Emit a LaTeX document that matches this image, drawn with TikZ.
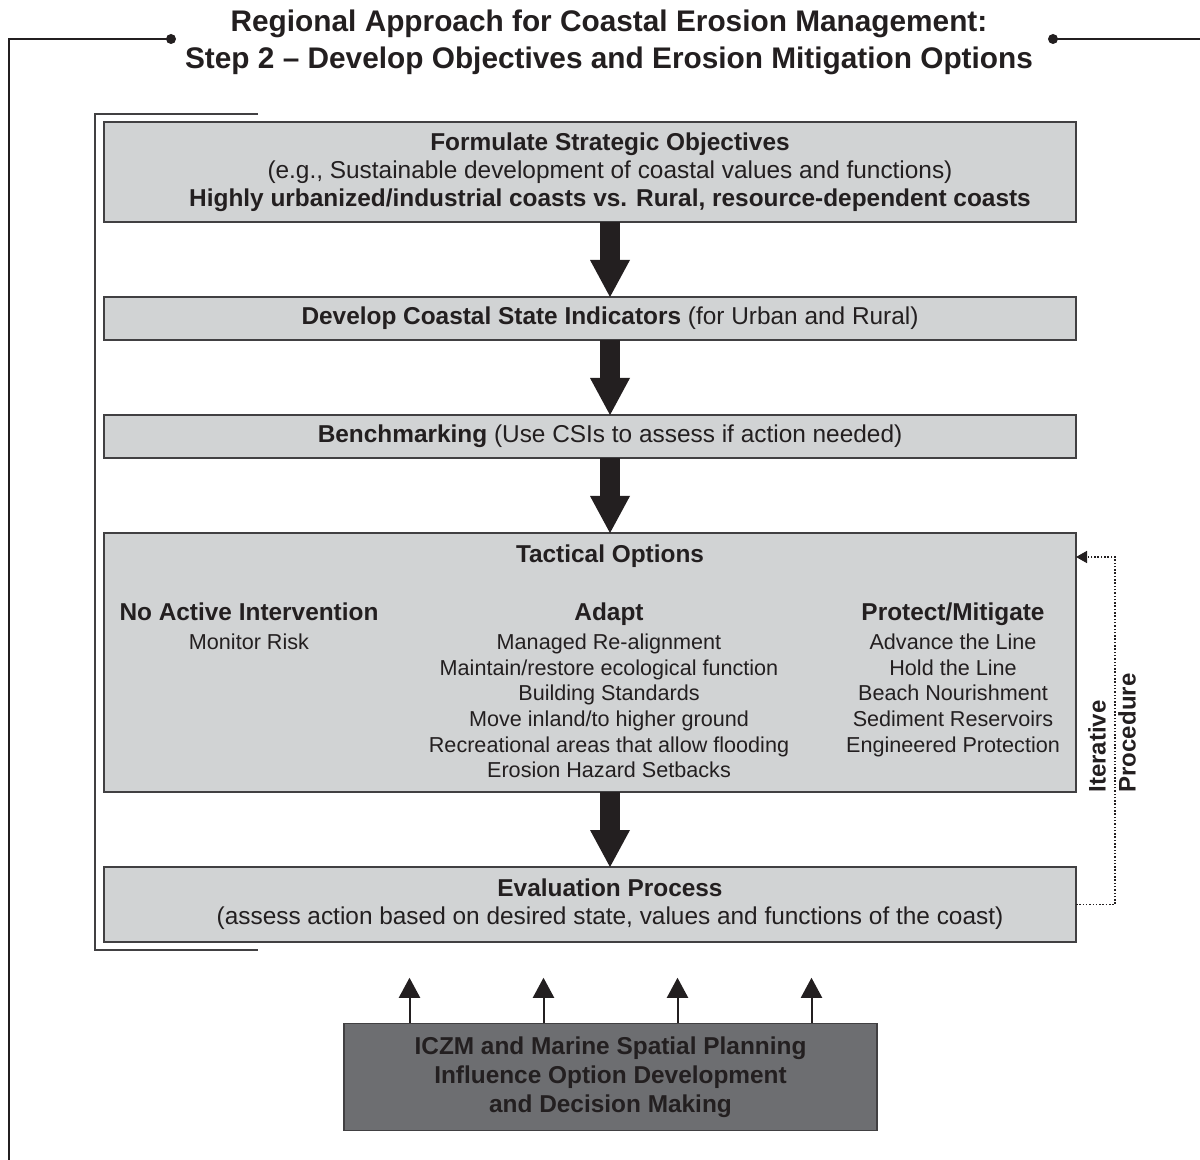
\documentclass[tikz,border=0pt]{standalone}
\usepackage{fontspec}
\setmainfont{Liberation Sans}
\usepackage{xcolor}
\usetikzlibrary{arrows.meta,positioning}
\definecolor{boxgray}{HTML}{D1D3D4}
\definecolor{darkbox}{HTML}{6D6E71}
\definecolor{inkblack}{HTML}{231F20}
\definecolor{edgegray}{HTML}{414042}

\begin{document}
\begin{tikzpicture}[
    x=0.5pt, y=-0.5pt,
    node distance=37.5pt,
    stagebox/.style={rectangle, draw=edgegray, fill=boxgray, line width=0.75pt, minimum width=486pt, inner sep=0pt, outer sep=0pt},
    stagetext/.style={text=inkblack, align=center, font=\fontsize{12.2}{14}\selectfont, inner sep=0pt},
    boxlabel/.style={stagetext, xshift=10pt},
    coltext/.style={text=inkblack, align=center, font=\fontsize{10.8}{12.8}\selectfont, inner sep=0pt, anchor=north},
    iczmbox/.style={rectangle, draw=edgegray, fill=darkbox, line width=0.75pt, minimum width=266.5pt, minimum height=53.5pt, inner sep=0pt, text=inkblack, align=center, font=\bfseries\fontsize{12.2}{14.5}\selectfont},
    bigarrow/.style={-{Triangle[length=18.5pt, width=20pt, line width=0pt]}, line width=10pt, draw=inkblack},
    smallarrow/.style={-{Triangle[length=10pt, width=10.5pt]}, line width=1pt, draw=inkblack},
    iterarrow/.style={-{Triangle[length=5.5pt, width=6pt]}, line width=0.75pt, draw=inkblack, dash pattern=on 0.75pt off 0.9pt},
    bracketline/.style={draw=edgegray, line width=0.6pt},
    frameline/.style={draw=inkblack, line width=1.35pt}
]
\useasboundingbox (0,0) rectangle (1200,1160);

\node (title) [text=inkblack, align=center, inner sep=0pt, font=\bfseries\fontsize{14.9}{18.5}\selectfont] at (609,42)
    {Regional Approach for Coastal Erosion Management:\\Step 2 -- Develop Objectives and Erosion Mitigation Options};
\draw[frameline] (171,39) -- (9,39) -- (9,1175);
\draw[frameline] (1053,39) -- (1215,39);
\fill[inkblack] (171,39) circle (2.5pt);
\fill[inkblack] (1053,39) circle (2.5pt);

\draw[bracketline] (258,114) -- (95,114) -- (95,950) -- (258,950);

\node (objbox) [stagebox, minimum height=50pt,
    label={[boxlabel]center:{\textbf{Formulate Strategic Objectives}\\(e.g., Sustainable development of coastal values and functions)\\\textbf{Highly urbanized/industrial coasts vs. Rural, resource-dependent coasts}}}] at (590,172) {};
\node (csibox) [stagebox, minimum height=21.5pt, below=of objbox,
    label={[boxlabel]center:{\textbf{Develop Coastal State Indicators} (for Urban and Rural)}}] {};
\node (benchbox) [stagebox, minimum height=21.5pt, below=of csibox,
    label={[boxlabel]center:{\textbf{Benchmarking} (Use CSIs to assess if action needed)}}] {};
\node (tacbox) [stagebox, minimum height=129.5pt, below=of benchbox] {};
\node (evalbox) [stagebox, minimum height=37.5pt, below=of tacbox,
    label={[boxlabel]center:{\textbf{Evaluation Process}\\(assess action based on desired state, values and functions of the coast)}}] {};

\node (tactitle) [stagetext, font=\bfseries\fontsize{12.2}{14}\selectfont, anchor=north] at ([xshift=10pt, yshift=-5.5pt]tacbox.north) {Tactical Options};
\node (noact) [coltext] at ([xshift=-170.5pt, yshift=-34.5pt]tacbox.north)
    {\textbf{\fontsize{12.2}{14}\selectfont No Active Intervention}\\[2pt]Monitor Risk};
\node (adapt) [coltext] at ([xshift=9.5pt, yshift=-34.5pt]tacbox.north)
    {\textbf{\fontsize{12.2}{14}\selectfont Adapt}\\[2pt]Managed Re-alignment\\Maintain/restore ecological function\\Building Standards\\Move inland/to higher ground\\Recreational areas that allow flooding\\Erosion Hazard Setbacks};
\node (protect) [coltext] at ([xshift=181.5pt, yshift=-34.5pt]tacbox.north)
    {\textbf{\fontsize{12.2}{14}\selectfont Protect/Mitigate}\\[2pt]Advance the Line\\Hold the Line\\Beach Nourishment\\Sediment Reservoirs\\Engineered Protection};

\foreach \a/\b in {objbox/csibox, csibox/benchbox, benchbox/tacbox, tacbox/evalbox}
    \draw[bigarrow] ([xshift=10pt]\a.south) -- ([xshift=10pt]\b.north);

\draw[iterarrow] (evalbox.east) -- ++(19.5pt,0pt) |- ([yshift=-12pt]tacbox.north east);
\node (itertext) [text=inkblack, align=left, inner sep=0pt, rotate=90, font=\bfseries\fontsize{12}{15}\selectfont] at (1112,733) {Iterative\\Procedure};

\node (iczm) [iczmbox] at (610.5,1077) {ICZM and Marine Spatial Planning\\Influence Option Development\\and Decision Making};
\foreach \dx [count=\i] in {-100.5,-33.5,33.5,100.5} {
    \coordinate (tip\i) at ([xshift=\dx pt, yshift=22.5pt]iczm.north);
    \draw[smallarrow] ([xshift=\dx pt]iczm.north) -- (tip\i);
}
\end{tikzpicture}
\end{document}
